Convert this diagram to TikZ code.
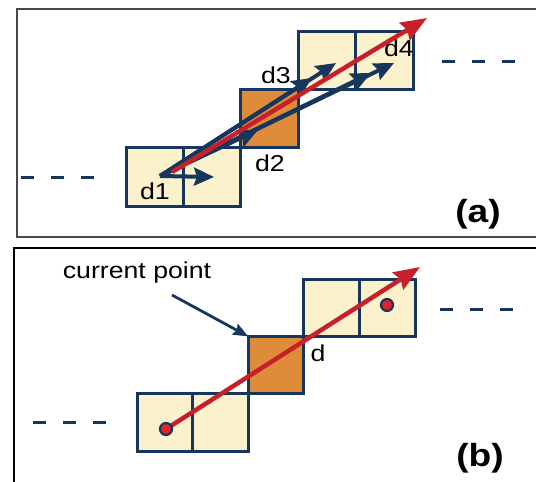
\documentclass[tikz,border=0pt]{standalone}
\usepackage{fontspec}
\setmainfont{Liberation Sans}[FakeStretch=1.16]
\usetikzlibrary{arrows.meta}
\definecolor{navy}{HTML}{17365D}
\definecolor{cellfill}{HTML}{FBF2CD}
\definecolor{orangefill}{HTML}{DE8C3A}
\definecolor{redline}{HTML}{C8202A}
\definecolor{dotred}{HTML}{E8202A}
\definecolor{framegray}{HTML}{4A4A4A}
\tikzset{
  cellA/.style={draw=navy, line width=3pt, fill=cellfill, minimum width=57.4pt, minimum height=58.3pt, inner sep=0pt, outer sep=0pt},
  cellB/.style={draw=navy, line width=3pt, fill=cellfill, minimum width=55.6pt, minimum height=57.3pt, inner sep=0pt, outer sep=0pt},
  hot/.style={fill=orangefill},
  lbl/.style={inner sep=0pt, font=\fontsize{23}{26}\selectfont, text=black},
  panel/.style={inner sep=0pt, font=\fontsize{32}{36}\selectfont\bfseries, text=black},
  bluearrow/.style={draw=navy, line width=4pt, -{Stealth[length=20pt, width=18pt, inset=3pt]}},
  redarrow/.style={draw=redline, line width=4.5pt, -{Stealth[length=26pt, width=20pt, inset=3pt]}},
  pointer/.style={draw=navy, line width=2.8pt, -{Stealth[length=15pt, width=12pt, inset=2pt]}},
  dashline/.style={draw=navy, line width=3pt, dash pattern=on 13pt off 17pt},
  dot/.style={circle, draw=navy, line width=2.2pt, fill=dotred, minimum size=12pt, inner sep=0pt},
}
\begin{document}
\begin{tikzpicture}[x=1pt, y=-1pt]
\useasboundingbox (0,0) rectangle (536,482);
\clip (0,0) rectangle (536,482);
% frames
\draw[framegray, line width=2pt] (17,9) rectangle (560,237);
\draw[black, line width=2.5pt] (14,248) rectangle (560,500);

% ---------- panel (a) ----------
\node[cellA] (a1) at (154.7,176.85) {};
\node[cellA] (a2) at (212.1,176.85) {};
\node[cellA, hot] (a3) at (269.5,118.55) {};
\node[cellA] (a4) at (326.9,60.25) {};
\node[cellA] (a5) at (384.3,60.25) {};

\coordinate (la1) at (21,177);
\coordinate (la2) at (98,177);
\coordinate (ra1) at (442,61);
\coordinate (ra2) at (515,61);
\draw[dashline] (la1) -- (la2);
\draw[dashline] (ra1) -- (ra2);

\coordinate (s) at (160,176);
\coordinate (h) at (214,177);
\coordinate (u1) at (312,78);
\coordinate (u2) at (336,63);
\coordinate (w1) at (258,130);
\coordinate (w2) at (371,73);
\coordinate (w3) at (394,63);
\draw[bluearrow] (s) -- (h);
\draw[bluearrow] (s) -- (u1);
\draw[bluearrow] (s) -- (u2);
\draw[bluearrow] (s) -- (w1);
\draw[bluearrow] (s) -- (w2);
\draw[bluearrow] (s) -- (w3);

\coordinate (rs) at (172,172);
\coordinate (re) at (427,18);
\draw[redarrow] (rs) -- (re);

\node[lbl] (d1) at (155,191) {d1};
\node[lbl] (d2) at (270,163) {d2};
\node[lbl] (d3) at (276,75) {d3};
\node[lbl] (d4) at (399,48) {d4};
\node[panel] (pa) at (478,214) {(a)};

% ---------- panel (b) ----------
\node[cellB] (b1) at (164.8,422.35) {};
\node[cellB] (b2) at (220.4,422.35) {};
\node[cellB, hot] (b3) at (276.0,365.05) {};
\node[cellB] (b4) at (331.6,307.75) {};
\node[cellB] (b5) at (387.2,307.75) {};

\coordinate (lb1) at (33,422);
\coordinate (lb2) at (110,422);
\coordinate (rb1) at (440,309);
\coordinate (rb2) at (513,309);
\draw[dashline] (lb1) -- (lb2);
\draw[dashline] (rb1) -- (rb2);

\coordinate (p1c) at (166,429);
\coordinate (bre) at (420,267);
\draw[redarrow] (p1c) -- (bre);
\node[dot] (p1) at (p1c) {};
\node[dot] (p2) at (387,305) {};

\node[lbl] (cp) at (137,273) {current point};
\coordinate (cps) at (172,295);
\draw[pointer] (cps) -- (b3.north west);

\node[lbl] (dd) at (318,353) {d};
\node[panel] (pb) at (480,458) {(b)};
\end{tikzpicture}
\end{document}
